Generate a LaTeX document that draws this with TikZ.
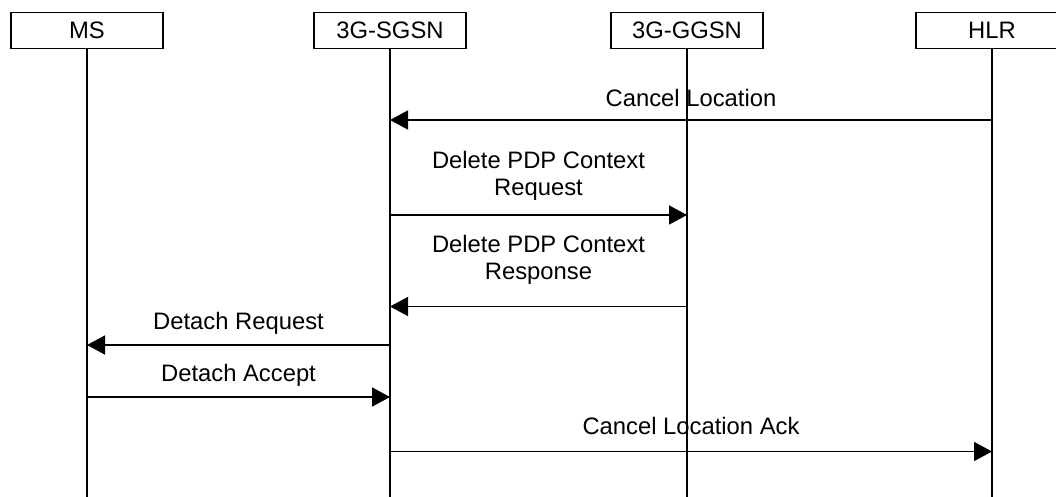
\documentclass[tikz,border=0pt]{standalone}
\usepackage{fontspec}
\setmainfont{Liberation Sans}
\usetikzlibrary{arrows.meta}

\begin{document}
\begin{tikzpicture}[x=1pt,y=-1pt,
  font=\fontsize{23.8}{27}\selectfont,
  entity/.style={draw, line width=1.6pt, minimum width=152pt, minimum height=36pt,
                 inner sep=0pt, anchor=center},
  lifeline/.style={line width=1.6pt},
  msg/.style={line width=1.7pt, -{Triangle[length=18pt,width=19pt]}},
  lbl/.style={anchor=base, align=center, inner sep=0pt}]

\useasboundingbox (0,0) rectangle (1056,497);

% participants
\node[entity] (ms)   at (87,30.5)  {MS};
\node[entity] (sgsn) at (390,30.5) {3G-SGSN};
\node[entity] (ggsn) at (687,30.5) {3G-GGSN};
\node[entity] (hlr)  at (992,30.5) {HLR};

% lifeline ends
\coordinate (msEnd)   at (87,497);
\coordinate (sgsnEnd) at (390,497);
\coordinate (ggsnEnd) at (687,497);
\coordinate (hlrEnd)  at (992,497);

\draw[lifeline] (ms.south)   -- (msEnd);
\draw[lifeline] (sgsn.south) -- (sgsnEnd);
\draw[lifeline] (ggsn.south) -- (ggsnEnd);
\draw[lifeline] (hlr.south)  -- (hlrEnd);

% message end points on the lifelines
\coordinate (hlrA)  at (992,120);   \coordinate (sgsnA) at (390,120);
\coordinate (sgsnB) at (390,215);   \coordinate (ggsnB) at (687,215);
\coordinate (ggsnC) at (687,306.5); \coordinate (sgsnC) at (390,306.5);
\coordinate (sgsnD) at (390,345);   \coordinate (msD)   at (87,345);
\coordinate (msE)   at (87,397);    \coordinate (sgsnE) at (390,397);
\coordinate (sgsnF) at (390,451.5); \coordinate (hlrF)  at (992,451.5);

% messages (label anchor = baseline of the last text line)
\draw[msg] (hlrA) -- (sgsnA);
\node[lbl] (lblA) at (691,106.5) {Cancel Location};

\draw[msg] (sgsnB) -- (ggsnB);
\node[lbl] (lblB) at (538.5,195) {Delete PDP Context\\Request};

\draw[msg] (ggsnC) -- (sgsnC);
\node[lbl] (lblC) at (538.5,279) {Delete PDP Context\\Response};

\draw[msg] (sgsnD) -- (msD);
\node[lbl] (lblD) at (238.5,329) {Detach Request};

\draw[msg] (msE) -- (sgsnE);
\node[lbl] (lblE) at (238.5,381) {Detach Accept};

\draw[msg] (sgsnF) -- (hlrF);
\node[lbl] (lblF) at (691,434.5) {Cancel Location Ack};

\end{tikzpicture}
\end{document}
